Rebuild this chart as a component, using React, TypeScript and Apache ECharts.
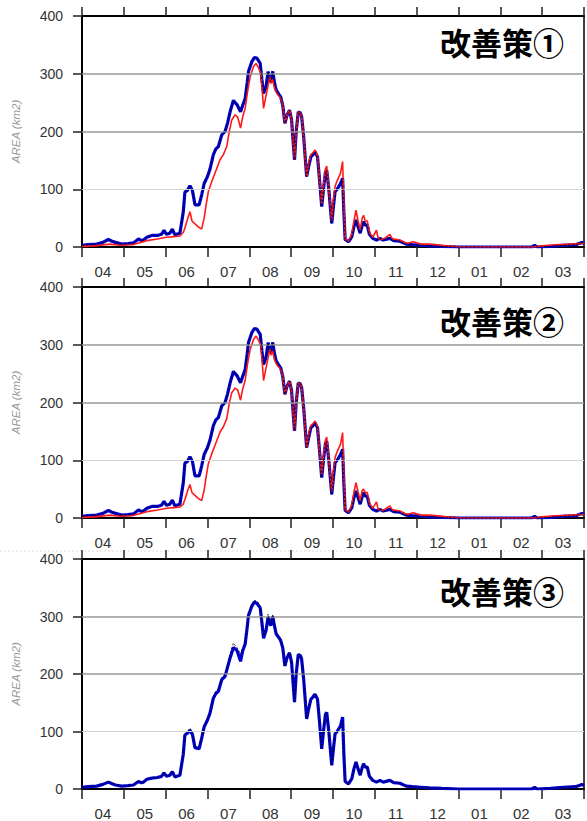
import React, { useEffect, useRef } from "react";
import * as echarts from "echarts";

// Month labels (April to March)
const months = ["04", "05", "06", "07", "08", "09", "10", "11", "12", "01", "02", "03"];
const yTicks = [0, 100, 200, 300, 400];
const titles = ["改善策①", "改善策②", "改善策③"];

// x = position in months from 1 April (0..12), y = area (km2)
const blueBase: number[][] = [
  [0, 3], [0.15, 4], [0.35, 5], [0.5, 8], [0.63, 13], [0.72, 10], [0.8, 8], [0.95, 5], [1.1, 6], [1.23, 7],
  [1.35, 14], [1.42, 11], [1.47, 12], [1.55, 17], [1.67, 20], [1.8, 20], [1.9, 22], [1.96, 29], [2.02, 22],
  [2.1, 24], [2.16, 31], [2.22, 21], [2.34, 24], [2.42, 60], [2.46, 95], [2.52, 98], [2.58, 106], [2.64, 98],
  [2.7, 73], [2.8, 73], [2.86, 90], [2.92, 110], [3.0, 122], [3.06, 135], [3.14, 160], [3.2, 170], [3.26, 174],
  [3.34, 194], [3.42, 200], [3.48, 215], [3.54, 234], [3.62, 254], [3.66, 250], [3.71, 246], [3.79, 234],
  [3.84, 245], [3.9, 257], [3.95, 285], [3.98, 304], [4.06, 321], [4.12, 328], [4.18, 327], [4.26, 318],
  [4.3, 290], [4.34, 266], [4.4, 278], [4.45, 304], [4.48, 290], [4.51, 286], [4.56, 304], [4.6, 285],
  [4.64, 272], [4.7, 265], [4.75, 260], [4.8, 245], [4.85, 214], [4.9, 228], [4.96, 237], [5.01, 220],
  [5.05, 180], [5.08, 151], [5.12, 200], [5.17, 234], [5.22, 232], [5.25, 226], [5.3, 190], [5.37, 122],
  [5.42, 140], [5.47, 156], [5.52, 160], [5.57, 165], [5.63, 156], [5.68, 115], [5.73, 70], [5.78, 105],
  [5.82, 130], [5.85, 133], [5.9, 100], [5.97, 41], [6.01, 70], [6.05, 96], [6.1, 100], [6.18, 110],
  [6.23, 119], [6.26, 60], [6.29, 13], [6.37, 9], [6.45, 18], [6.5, 35], [6.55, 47], [6.6, 35], [6.65, 24],
  [6.7, 38], [6.73, 44], [6.77, 38], [6.82, 38], [6.87, 22], [6.95, 15], [7.04, 12], [7.12, 15], [7.2, 12],
  [7.36, 15], [7.45, 11], [7.6, 10], [7.75, 5], [7.9, 4], [8.1, 3], [8.3, 2], [8.6, 1], [9, 0], [10, 0],
  [10.75, 0], [10.82, 3], [10.88, 0], [11.2, 1], [11.5, 3], [11.8, 4], [11.95, 8], [12, 6],
];

const red1: number[][] = [
  [0, 1], [0.3, 2], [0.67, 5], [0.9, 3], [1.2, 4], [1.55, 11], [1.8, 14], [2.02, 17], [2.2, 18], [2.34, 19],
  [2.42, 25], [2.46, 33], [2.53, 50], [2.58, 61], [2.63, 45], [2.7, 40], [2.78, 35], [2.86, 31], [2.92, 50],
  [2.96, 70], [3.02, 96], [3.1, 113], [3.18, 128], [3.3, 151], [3.38, 160], [3.46, 174], [3.52, 200],
  [3.58, 220], [3.66, 229], [3.72, 225], [3.79, 206], [3.84, 225], [3.9, 240], [3.96, 270], [4.02, 295],
  [4.1, 312], [4.16, 318], [4.22, 310], [4.28, 300], [4.34, 240], [4.4, 262], [4.45, 280], [4.49, 295],
  [4.52, 283], [4.56, 290], [4.6, 275], [4.66, 266], [4.75, 258], [4.8, 245], [4.85, 214], [4.9, 228],
  [4.96, 237], [5.01, 220], [5.05, 180], [5.08, 151], [5.12, 200], [5.17, 234], [5.22, 232], [5.25, 226],
  [5.3, 190], [5.37, 122], [5.42, 145], [5.47, 160], [5.52, 163], [5.57, 168], [5.63, 158], [5.68, 115],
  [5.73, 75], [5.78, 110], [5.82, 135], [5.85, 140], [5.9, 100], [5.97, 45], [6.01, 80], [6.05, 105],
  [6.1, 115], [6.18, 128], [6.23, 148], [6.26, 70], [6.29, 14], [6.37, 10], [6.45, 22], [6.5, 45], [6.55, 64],
  [6.6, 45], [6.65, 30], [6.7, 50], [6.73, 55], [6.77, 45], [6.82, 45], [6.87, 25], [6.95, 17], [7.04, 29],
  [7.08, 15], [7.2, 13], [7.36, 22], [7.42, 14], [7.6, 12], [7.76, 6], [7.92, 9], [8.1, 5], [8.32, 5],
  [8.72, 2], [9, 0.5], [10, 0], [10.8, 0], [11, 2], [11.3, 4], [11.7, 5], [11.95, 6], [12, 6],
];

const red2: number[][] = [
  [0, 1], [0.3, 2], [0.67, 5], [0.9, 3], [1.2, 4], [1.55, 11], [1.8, 14], [2.02, 17], [2.2, 18], [2.34, 19],
  [2.42, 24], [2.46, 32], [2.53, 48], [2.58, 58], [2.63, 44], [2.7, 39], [2.78, 34], [2.86, 30], [2.92, 48],
  [2.96, 68], [3.02, 94], [3.1, 111], [3.18, 126], [3.3, 149], [3.38, 158], [3.46, 172], [3.52, 198],
  [3.58, 217], [3.66, 225], [3.72, 222], [3.79, 204], [3.84, 223], [3.9, 238], [3.96, 268], [4.02, 292],
  [4.1, 309], [4.16, 315], [4.22, 308], [4.28, 298], [4.34, 238], [4.4, 260], [4.45, 278], [4.49, 293],
  [4.52, 282], [4.56, 289], [4.6, 274], [4.66, 265], [4.75, 258], [4.8, 245], [4.85, 214], [4.9, 228],
  [4.96, 237], [5.01, 220], [5.05, 180], [5.08, 151], [5.12, 200], [5.17, 234], [5.22, 232], [5.25, 226],
  [5.3, 190], [5.37, 122], [5.42, 145], [5.47, 160], [5.52, 163], [5.57, 168], [5.63, 158], [5.68, 115],
  [5.73, 75], [5.78, 110], [5.82, 135], [5.85, 140], [5.9, 100], [5.97, 45], [6.01, 80], [6.05, 105],
  [6.1, 115], [6.18, 128], [6.23, 148], [6.26, 70], [6.29, 14], [6.37, 10], [6.45, 22], [6.5, 45], [6.55, 61],
  [6.6, 45], [6.65, 30], [6.7, 48], [6.73, 50], [6.77, 44], [6.82, 44], [6.87, 25], [6.95, 17], [7.04, 28],
  [7.08, 15], [7.2, 13], [7.36, 21], [7.42, 14], [7.6, 12], [7.76, 6], [7.92, 9], [8.1, 5], [8.32, 5],
  [8.72, 2], [9, 0.5], [10, 0], [10.8, 0], [11, 2], [11.3, 4], [11.7, 5], [11.95, 6], [12, 6],
];

const blue3: number[][] = [
  [0, 3], [0.15, 4], [0.35, 5], [0.5, 8], [0.63, 12], [0.72, 9], [0.8, 7], [0.95, 5], [1.1, 6], [1.23, 7],
  [1.35, 13], [1.42, 11], [1.47, 12], [1.55, 17], [1.67, 19], [1.8, 20], [1.9, 22], [1.96, 28], [2.02, 22],
  [2.1, 24], [2.16, 30], [2.22, 21], [2.34, 24], [2.42, 60], [2.46, 94], [2.52, 97], [2.58, 102], [2.64, 95],
  [2.7, 72], [2.8, 70], [2.86, 88], [2.92, 108], [3.0, 120], [3.06, 132], [3.14, 158], [3.2, 166], [3.26, 170],
  [3.34, 190], [3.42, 196], [3.48, 212], [3.54, 228], [3.62, 246], [3.66, 244], [3.71, 240], [3.79, 222],
  [3.84, 240], [3.9, 252], [3.95, 282], [3.98, 302], [4.06, 318], [4.12, 325], [4.18, 323], [4.26, 315],
  [4.3, 290], [4.34, 262], [4.4, 276], [4.45, 300], [4.48, 290], [4.51, 284], [4.56, 300], [4.6, 284],
  [4.64, 270], [4.7, 264], [4.75, 258], [4.8, 245], [4.85, 214], [4.9, 228], [4.96, 237], [5.01, 220],
  [5.05, 180], [5.08, 151], [5.12, 200], [5.17, 234], [5.22, 232], [5.25, 226], [5.3, 190], [5.37, 122],
  [5.42, 140], [5.47, 156], [5.52, 160], [5.57, 165], [5.63, 156], [5.68, 115], [5.73, 70], [5.78, 105],
  [5.82, 130], [5.85, 133], [5.9, 100], [5.97, 41], [6.01, 70], [6.05, 96], [6.1, 100], [6.18, 110],
  [6.23, 125], [6.26, 60], [6.29, 13], [6.37, 9], [6.45, 18], [6.5, 35], [6.55, 47], [6.6, 35], [6.65, 24],
  [6.7, 38], [6.73, 44], [6.77, 38], [6.82, 38], [6.87, 22], [6.95, 15], [7.04, 12], [7.12, 15], [7.2, 12],
  [7.36, 15], [7.45, 11], [7.6, 10], [7.75, 5], [7.9, 4], [8.1, 3], [8.3, 2], [8.6, 1], [9, 0], [10, 0],
  [10.75, 0], [10.82, 3], [10.88, 0], [11.2, 1], [11.5, 3], [11.8, 4], [11.95, 8], [12, 6],
];

const panels = [
  { blue: blueBase, red: red1, obs: blueBase },
  { blue: blueBase, red: red2, obs: blueBase },
  { blue: blue3, red: null as number[][] | null, obs: blueBase },
];

const gridTops = [16, 287, 559];
const gridHeight = 231;
const titleY = [43, 322, 592];

export default function App() {
  const ref = useRef<HTMLDivElement>(null);
  useEffect(() => {
    document.body.style.margin = "0";
    const chart = echarts.init(ref.current!, null, { renderer: "svg" });
    const grids: any[] = [];
    const xAxes: any[] = [];
    const yAxes: any[] = [];
    const series: any[] = [];
    const axisColor = "#222";
    panels.forEach((p, i) => {
      grids.push({
        left: 82,
        width: 502,
        top: gridTops[i],
        height: gridHeight,
        show: true,
        borderColor: "#000",
        borderWidth: 1.5,
      });
      // data axis (hidden)
      xAxes.push({
        type: "value",
        gridIndex: i,
        min: 0,
        max: 12,
        show: false,
      });
      // month axis bottom
      xAxes.push({
        type: "category",
        gridIndex: i,
        position: "bottom",
        data: months,
        boundaryGap: true,
        axisLine: { show: true, lineStyle: { color: "#000", width: 2 } },
        axisTick: { show: true, length: 10, lineStyle: { color: axisColor, width: 1.5 } },
        axisLabel: {
          show: true,
          margin: 17,
          fontSize: 15,
          color: "#333",
          fontFamily: "Liberation Sans",
        },
        splitLine: { show: false },
      });
      // month axis top (ticks only)
      xAxes.push({
        type: "category",
        gridIndex: i,
        position: "top",
        data: months,
        boundaryGap: true,
        axisLine: { show: true, lineStyle: { color: "#000", width: 2 } },
        axisTick: { show: true, length: 9, lineStyle: { color: axisColor, width: 1.5 } },
        axisLabel: { show: false },
        splitLine: { show: false },
      });
      yAxes.push({
        type: "value",
        gridIndex: i,
        min: yTicks[0],
        max: yTicks[yTicks.length - 1],
        interval: 100,
        axisLine: { show: true, lineStyle: { color: "#000", width: 2 } },
        axisTick: { show: true, length: 9, lineStyle: { color: axisColor, width: 1.5 } },
        axisLabel: {
          margin: 19,
          fontSize: 14,
          color: "#333",
          fontFamily: "Liberation Sans",
        },
        splitLine: { show: false },
        name: "AREA (km2)",
        nameLocation: "middle",
        nameGap: 60,
        nameTextStyle: {
          color: "#999",
          fontStyle: "italic",
          fontSize: 11.5,
          fontFamily: "Liberation Sans",
        },
      });
      const xi = i * 3;
      // grid lines
      series.push({
        type: "line",
        xAxisIndex: xi,
        yAxisIndex: i,
        data: [[0, 0]],
        symbol: "none",
        lineStyle: { opacity: 0 },
        z: 1,
        silent: true,
        markLine: {
          silent: true,
          symbol: "none",
          label: { show: false },
          data: [
            { yAxis: yTicks[1], lineStyle: { color: "#d4d4d4", width: 1, type: "solid" } },
            { yAxis: yTicks[2], lineStyle: { color: "#999", width: 1.5, type: "solid" } },
            { yAxis: yTicks[3], lineStyle: { color: "#999", width: 1.5, type: "solid" } },
          ],
        },
      });
      series.push({
        type: "line",
        xAxisIndex: xi,
        yAxisIndex: i,
        data: p.blue,
        symbol: "none",
        z: 3,
        lineStyle: { color: "#0000d0", width: 3.2 },
      });
      if (p.red) {
        series.push({
          type: "line",
          xAxisIndex: xi,
          yAxisIndex: i,
          data: p.red,
          symbol: "none",
          z: 4,
          lineStyle: { color: "#ff1a1a", width: 1.6 },
        });
      }
      series.push({
        type: "line",
        xAxisIndex: xi,
        yAxisIndex: i,
        data: p.obs,
        symbol: "none",
        z: 5,
        lineStyle: { color: "#000", width: 1, type: [2, 2], opacity: 0.85 },
      });
    });

    const graphic: any[] = titles.map((t, i) => ({
      type: "text",
      right: 23,
      top: titleY[i] - 17,
      style: {
        text: t,
        fontSize: 31,
        fontWeight: "bold",
        fontFamily: "Noto Sans CJK JP",
        fill: "#000",
      },
    }));
    graphic.push({
      type: "line",
      shape: { x1: 0, y1: 551, x2: 587, y2: 551 },
      style: { stroke: "#dddddd", lineWidth: 1, lineDash: [2, 2] },
    });

    chart.setOption({
      animation: false,
      backgroundColor: "#fff",
      grid: grids,
      xAxis: xAxes,
      yAxis: yAxes,
      series,
      graphic,
    });
    return () => chart.dispose();
  }, []);
  return <div ref={ref} style={{ width: 587, height: 821 }} />;
}
